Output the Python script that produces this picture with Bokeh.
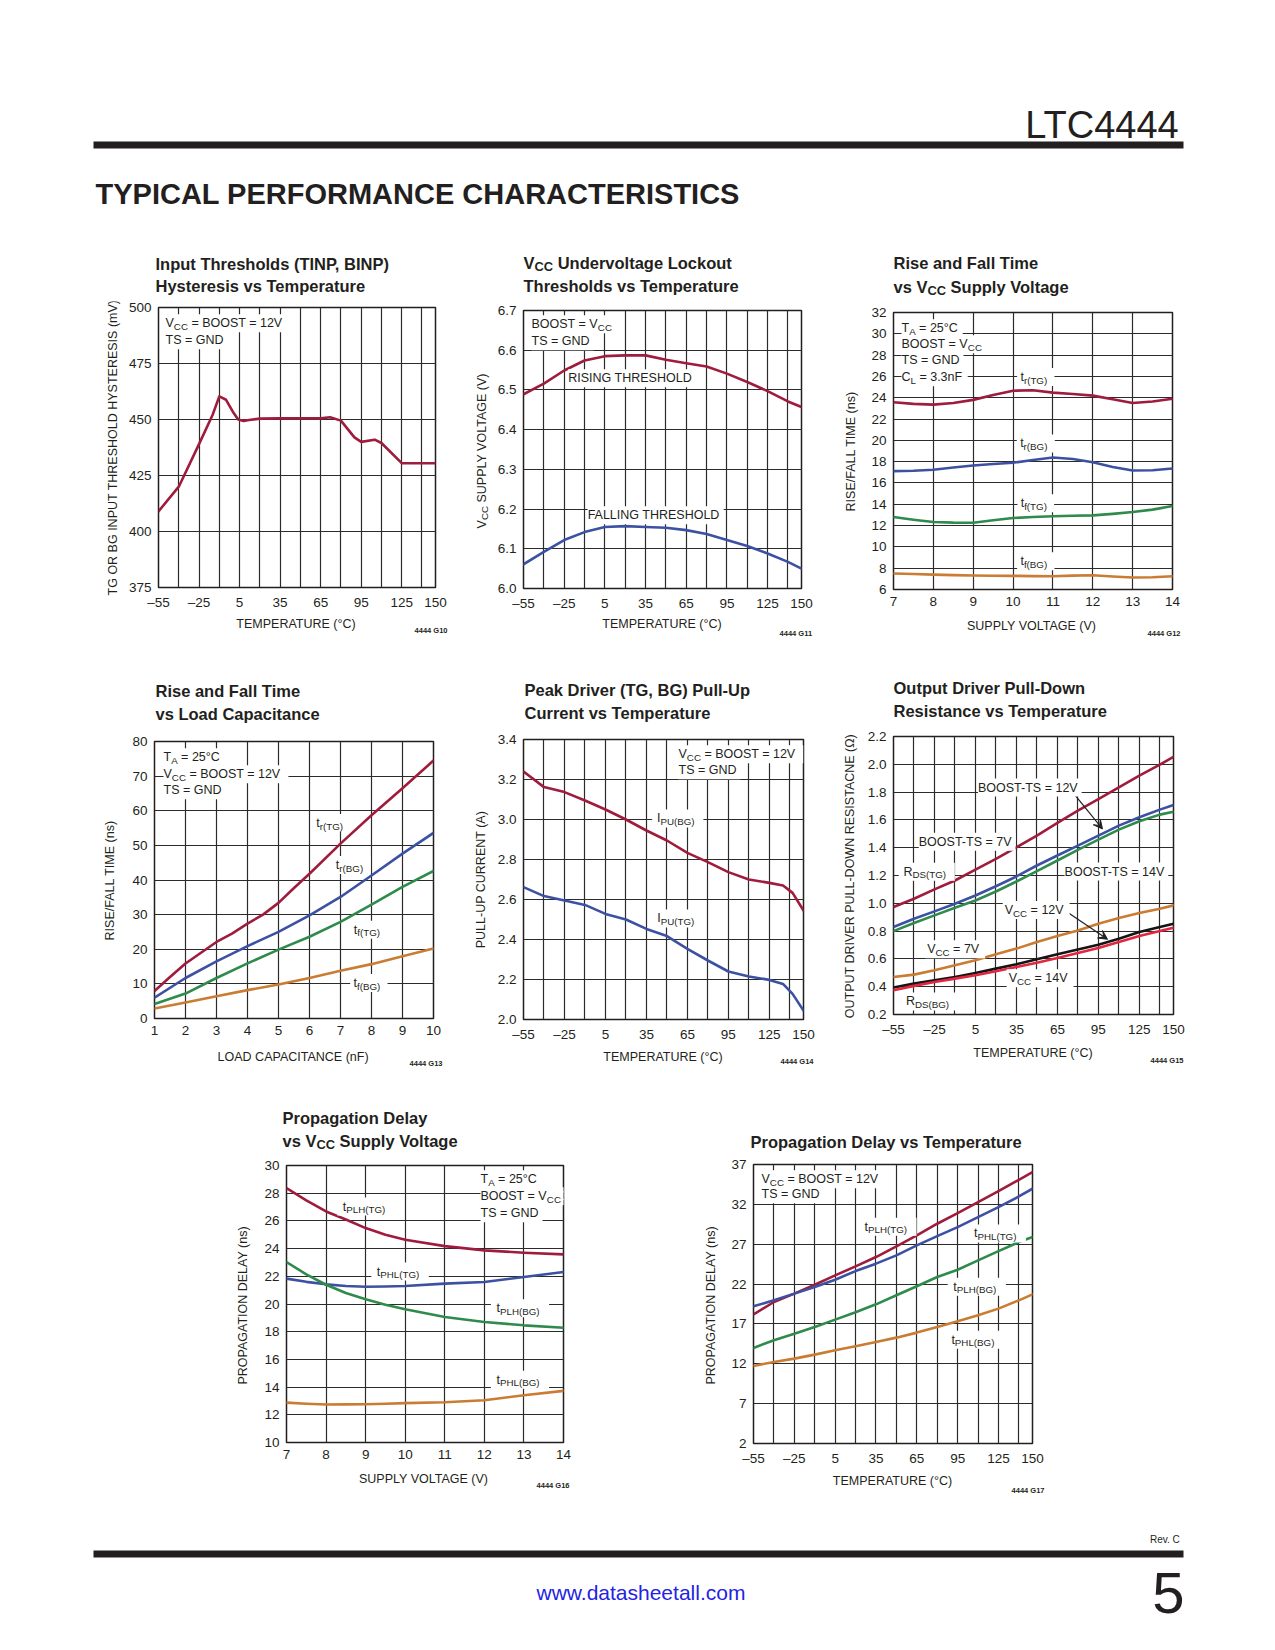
import math
from bokeh.plotting import figure
from bokeh.models import (Range1d, FixedTicker, CustomJSTickFormatter, Label,
                          BoxAnnotation, Arrow, VeeHead)
from bokeh.layouts import column, row
from bokeh.embed import file_html
from bokeh.resources import INLINE

FONT = "Liberation Sans"
INK = "#231f20"
MAROON = "#9f1c3d"
BLUE = "#3d51a3"
GREEN = "#2f8b4c"
ORANGE = "#c97c32"
RED = "#e3263f"
BLACK = "#151515"
LINKBLUE = "#2323e6"

# ---------------- data ----------------
TEMP_TICKS = [-55, -25, 5, 35, 65, 95, 125, 150]
TEMP_GRID = [-55, -40, -25, -10, 5, 20, 35, 50, 65, 80, 95, 110, 125, 140, 150]
TEMP_STD = [-55, -40, -25, -10, 5, 20, 35, 50, 65, 80, 95, 110, 125, 140, 150]

# G10 hysteresis vs temperature
g10_temp = [-55, -40, -25, -15, -10, -5, 0, 4, 8, 12, 20, 35, 50, 65, 72, 80, 90, 95, 105, 110, 125, 150]
g10_hyst = [409, 420, 439, 452, 460.3, 458.8, 453.5, 450.0, 449.3, 449.8, 450.4, 450.5, 450.5, 450.5, 451.0,
            449.5, 442.0, 440.0, 441.0, 439.5, 430.5, 430.5]

# G11 UVLO thresholds
g11_rise = [6.489, 6.516, 6.549, 6.574, 6.585, 6.587, 6.587, 6.576, 6.567, 6.559, 6.541, 6.520, 6.497, 6.471, 6.457]
g11_fall = [6.061, 6.092, 6.122, 6.142, 6.155, 6.157, 6.155, 6.153, 6.147, 6.137, 6.122, 6.107, 6.088, 6.067, 6.050]

# G12 rise/fall vs supply
g12_v = [7, 7.5, 8, 8.5, 9, 9.5, 10, 10.5, 11, 11.5, 12, 12.5, 13, 13.5, 14]
g12_tr_tg = [23.57, 23.42, 23.35, 23.5, 23.8, 24.25, 24.66, 24.7, 24.48, 24.35, 24.2, 23.85, 23.5, 23.65, 23.9]
g12_tr_bg = [17.11, 17.15, 17.24, 17.45, 17.64, 17.78, 17.9, 18.15, 18.39, 18.25, 17.95, 17.5, 17.17, 17.2, 17.36]
g12_tf_tg = [12.8, 12.55, 12.34, 12.28, 12.27, 12.5, 12.71, 12.8, 12.87, 12.92, 12.96, 13.1, 13.27, 13.5, 13.83]
g12_tf_bg = [7.5, 7.45, 7.4, 7.35, 7.31, 7.29, 7.28, 7.26, 7.25, 7.3, 7.34, 7.22, 7.12, 7.15, 7.25]

# G13 rise/fall vs load capacitance
g13_c_fine = [1, 1.5, 2, 2.5, 3, 3.5, 4, 4.5, 5, 5.5, 6, 7, 8, 9, 10]
g13_tr_tg = [7.9, 12.0, 15.9, 19.0, 22.1, 24.5, 27.4, 30.0, 33.4, 37.7, 41.8, 50.5, 58.7, 66.5, 74.5]
g13_c = [1, 2, 3, 4, 5, 6, 7, 8, 9, 10]
g13_tr_bg = [6.0, 11.7, 16.5, 20.9, 25.0, 29.8, 35.1, 41.3, 47.6, 53.6]
g13_tf_tg = [4.2, 7.2, 11.7, 15.9, 19.9, 23.6, 27.9, 32.9, 38.0, 42.6]
g13_tf_bg = [2.9, 4.6, 6.4, 8.2, 9.8, 11.7, 13.8, 15.7, 18.0, 20.2]

# G14 pull-up current vs temperature
g14_temp = [-55, -40, -25, -10, 5, 20, 35, 50, 65, 80, 95, 110, 125, 135, 142, 150]
g14_ipu_bg = [3.24, 3.162, 3.137, 3.095, 3.05, 3.0, 2.945, 2.895, 2.833, 2.787, 2.737, 2.70, 2.683, 2.67, 2.633, 2.545]
g14_ipu_tg = [2.662, 2.617, 2.595, 2.573, 2.528, 2.5, 2.453, 2.417, 2.353, 2.295, 2.24, 2.215, 2.198, 2.178, 2.128, 2.045]

# G15 pull-down resistance vs temperature
g15_tg_7v = [0.973, 1.033, 1.1, 1.164, 1.243, 1.32, 1.403, 1.487, 1.578, 1.667, 1.75, 1.834, 1.918, 1.997, 2.054]
g15_tg_12v = [0.829, 0.889, 0.942, 0.997, 1.056, 1.123, 1.193, 1.272, 1.344, 1.415, 1.487, 1.559, 1.619, 1.674, 1.707]
g15_tg_14v = [0.80, 0.858, 0.913, 0.968, 1.02, 1.085, 1.157, 1.231, 1.308, 1.384, 1.458, 1.53, 1.59, 1.638, 1.659]
g15_bg_7v = [0.47, 0.487, 0.518, 0.554, 0.59, 0.633, 0.674, 0.722, 0.765, 0.805, 0.853, 0.894, 0.93, 0.961, 0.985]
g15_bg_12v = [0.394, 0.422, 0.446, 0.47, 0.499, 0.53, 0.561, 0.597, 0.633, 0.667, 0.702, 0.745, 0.793, 0.829, 0.853]
g15_bg_14v = [0.375, 0.406, 0.434, 0.458, 0.482, 0.511, 0.542, 0.573, 0.607, 0.643, 0.678, 0.721, 0.765, 0.80, 0.824]

# G16 propagation delay vs supply
g16_v = [7, 7.5, 8, 8.5, 9, 9.5, 10, 11, 12, 13, 14]
g16_tplh_tg = [28.37, 27.48, 26.68, 26.1, 25.48, 25.0, 24.64, 24.18, 23.87, 23.7, 23.58]
g16_tphl_tg = [21.83, 21.6, 21.42, 21.3, 21.25, 21.26, 21.3, 21.47, 21.59, 21.95, 22.31]
g16_tplh_bg = [23.03, 22.14, 21.39, 20.79, 20.34, 19.95, 19.62, 19.06, 18.7, 18.46, 18.29]
g16_tphl_bg = [12.88, 12.8, 12.74, 12.75, 12.76, 12.8, 12.84, 12.91, 13.05, 13.41, 13.73]

# G17 propagation delay vs temperature
g17_tplh_tg = [18.2, 19.75, 20.8, 21.92, 23.09, 24.22, 25.39, 26.73, 28.1, 29.57, 30.9, 32.28, 33.66, 35.08, 36.04]
g17_tphl_tg = [19.21, 19.96, 20.8, 21.63, 22.55, 23.63, 24.56, 25.6, 26.85, 28.02, 29.15, 30.4, 31.66, 32.99, 33.96]
g17_tplh_bg = [13.99, 14.95, 15.78, 16.62, 17.54, 18.46, 19.46, 20.59, 21.72, 22.89, 23.8, 24.97, 26.14, 27.27, 27.9]
g17_tphl_bg = [11.73, 12.23, 12.65, 13.15, 13.7, 14.2, 14.74, 15.28, 15.91, 16.62, 17.33, 18.08, 18.92, 19.96, 20.71]

# arrows on G15 (start temp, start R, end temp, end R)
G15_ARROWS = [(77.3, 1.786, 98.0, 1.535), (72.9, 0.932, 101.7, 0.741)]

# ---------------- text metrics (Arial-compatible) ----------------
_REG = dict(zip(" !\"#$%&'()*+,-./", [278, 278, 355, 556, 556, 889, 667, 191, 333, 333, 389, 584, 278, 333, 278, 278]))
_REG.update({d: 556 for d in "0123456789"})
_REG.update(dict(zip(":;<=>?@", [278, 278, 584, 584, 584, 556, 1015])))
_REG.update(dict(zip("ABCDEFGHIJKLMNOPQRSTUVWXYZ",
                     [667, 667, 722, 722, 667, 611, 778, 722, 278, 500, 667, 556, 833, 722, 778, 667, 778, 722, 667,
                      611, 722, 667, 944, 667, 667, 611])))
_REG.update(dict(zip("abcdefghijklmnopqrstuvwxyz",
                     [556, 556, 500, 556, 556, 278, 556, 556, 222, 222, 500, 222, 833, 556, 556, 556, 556, 333, 500,
                      278, 556, 500, 722, 500, 500, 500])))
_REG.update({"°": 400, "Ω": 768, "–": 556})
_BOLD = dict(zip(" !\"#$%&'()*+,-./", [278, 333, 474, 556, 556, 889, 722, 238, 333, 333, 389, 584, 278, 333, 278, 278]))
_BOLD.update({d: 556 for d in "0123456789"})
_BOLD.update(dict(zip(":;<=>?@", [333, 333, 584, 584, 584, 611, 975])))
_BOLD.update(dict(zip("ABCDEFGHIJKLMNOPQRSTUVWXYZ",
                      [722, 722, 722, 722, 667, 611, 778, 722, 278, 556, 722, 611, 833, 722, 778, 667, 778, 722, 667,
                       611, 722, 667, 944, 667, 667, 611])))
_BOLD.update(dict(zip("abcdefghijklmnopqrstuvwxyz",
                      [556, 611, 556, 611, 556, 333, 611, 611, 278, 278, 556, 278, 889, 611, 611, 611, 611, 389, 556,
                       333, 611, 556, 778, 556, 556, 500])))
_BOLD.update({"°": 400, "Ω": 768, "–": 556})

KB = 0.27  # empirical baseline correction (fraction of font size)


def tw(s, size, bold=False):
    tbl = _BOLD if bold else _REG
    return sum(tbl.get(c, 556) for c in s) * size / 1000.0


def no_align(fig):
    try:
        fig.frame_align = False
    except Exception:
        pass


PENDING = {}


def _queue(p, lab, is_bg):
    d = PENDING.setdefault(id(p), (p, [], []))
    (d[1] if is_bg else d[2]).append(lab)


def rich(p, x, y, segs, size=12.5, dx=0.0, dy=0.0, align="left", bold=False, italic=False, bg=False,
         color=INK, vertical=False, sub_scale=0.78, drop=0.25, vmid=False):
    parts = []
    cur = 0.0
    has_sub = any(s for _, s in segs)
    for t, s in segs:
        fs = size * sub_scale if s else size
        lead = len(t) - len(t.lstrip(" "))
        core = t.strip(" ")
        if core:
            parts.append((core, fs, cur + tw(" " * lead, fs, bold), (drop * size) if s else 0.0))
        cur += tw(t, fs, bold)
    total = cur
    start = {"left": 0.0, "center": -total / 2.0, "right": -total}[align]
    if vmid:
        dy = dy - ((0.72 * size - drop * size) / 2.0 if has_sub else 0.36 * size)
    if vertical:
        dx = dx - KB * size
    else:
        dy = dy + KB * size
    fstyle = ("bold " if bold else "") + ("italic" if italic else "")
    fstyle = fstyle.strip() or "normal"
    base = dict(x=x, y=y, text_font=FONT, text_font_style=fstyle, text_align="left",
                text_baseline="alphabetic")
    if bg and not vertical:
        full = "".join(t for t, _ in segs).strip(" ")
        over = tw(full, size, bold) - total
        bstart = start - (over / 2.0 if align == "center" else (over if align == "right" else 0.0))
        _queue(p, Label(text=full, text_font_size=f"{size:.2f}px", text_color="white",
                        background_fill_color="white", padding=2,
                        x_offset=dx + bstart, y_offset=dy, **base), True)
    for core, fs, off, dn in parts:
        kw = dict(base, text=core, text_font_size=f"{fs:.2f}px", text_color=color)
        if vertical:
            kw.update(x_offset=dx + dn, y_offset=dy + start + off, angle=math.pi / 2)
        else:
            kw.update(x_offset=dx + start + off, y_offset=dy - dn)
        _queue(p, Label(**kw), False)


def fmt(kind):
    if kind == "temp":
        return CustomJSTickFormatter(code="return (tick < 0 ? '\u2013' : '') + Math.abs(tick).toFixed(0);")
    return CustomJSTickFormatter(code="return tick.toFixed(%d);" % kind)


def make_strip(w, h):
    s = figure(width=int(w), height=int(h), x_range=Range1d(0, w), y_range=Range1d(h, 0),
               x_axis_type=None, y_axis_type=None, output_backend="svg", toolbar_location=None,
               title=None, min_border=0)
    s.outline_line_color = None
    s.background_fill_color = "white"
    s.border_fill_color = "white"
    no_align(s)
    return s


CB_L, CB_T, CB_B = 32, 6, 26


class Cell:
    def __init__(self, cx, cy, cw, ch, L, T, fw, fh, xr, yr, xticks, xgrid, yticks, ygrid, xfmt, yfmt):
        self.L, self.T, self.fw, self.fh = L, T, fw, fh
        self.xr, self.yr = xr, yr
        Lc, Tc = L - cx, T - cy
        right = cw - Lc - fw
        p = figure(width=CB_L + fw + right, height=CB_T + fh + CB_B,
                   x_range=Range1d(*xr), y_range=Range1d(*yr),
                   output_backend="svg", toolbar_location=None, title=None,
                   min_border_left=CB_L, min_border_right=right,
                   min_border_top=CB_T, min_border_bottom=CB_B)
        no_align(p)
        p.outline_line_color = INK
        p.outline_line_width = 1.5
        p.background_fill_color = "white"
        p.border_fill_color = "white"
        for ax in (p.xaxis[0], p.yaxis[0]):
            ax.axis_line_color = None
            ax.major_tick_line_color = None
            ax.minor_tick_line_color = None
            ax.major_tick_in = 0
            ax.major_tick_out = 0
            ax.minor_tick_in = 0
            ax.minor_tick_out = 0
            ax.major_label_text_font = FONT
            ax.major_label_text_font_size = "13.5px"
            ax.major_label_text_color = INK
        p.xaxis[0].major_label_standoff = 7
        p.yaxis[0].major_label_standoff = 7
        p.xaxis[0].ticker = FixedTicker(ticks=list(xticks))
        p.yaxis[0].ticker = FixedTicker(ticks=list(yticks))
        p.xaxis[0].formatter = fmt(xfmt)
        p.yaxis[0].formatter = fmt(yfmt)
        p.xgrid[0].ticker = FixedTicker(ticks=list(xgrid))
        p.ygrid[0].ticker = FixedTicker(ticks=list(ygrid))
        for g in (p.xgrid[0], p.ygrid[0]):
            g.grid_line_color = "#2b2b2b"
            g.grid_line_width = 1.2
            g.grid_line_alpha = 1.0
        self.p = p
        self.top = make_strip(cw, Tc - CB_T)
        self.left = make_strip(Lc - CB_L, CB_T + fh + CB_B)
        self.bot = make_strip(cw, ch - Tc - fh - CB_B)
        self.o_top = (cx, cy)
        self.o_left = (cx, T - CB_T)
        self.o_bot = (cx, T + fh + CB_B)
        self.layout = column(self.top, row(self.left, p), self.bot)

    def curve(self, xs, ys, color):
        self.p.line(xs, ys, line_color=color, line_width=2.6, line_join="round", line_cap="round")

    def clabel(self, x, y, segs):
        rich(self.p, x, y, segs, align="center", bg=True, vmid=True)

    def box(self, lines, dx):
        for segs, dyy in lines:
            rich(self.p, self.xr[0], self.yr[1], segs, dx=dx, dy=dyy, bg=True)

    def titles(self, x_page, lines):
        ox, oy = self.o_top
        for segs, b in lines:
            rich(self.top, x_page - ox, b - oy, segs, size=16.5, bold=True, drop=0.22)

    def ylabel(self, cx_page, segs, size=12.5):
        ox, oy = self.o_left
        rich(self.left, cx_page - ox, self.T + self.fh / 2.0 - oy, segs, size=size, vertical=True,
             align="center", dx=0.36 * size)

    def xlabel(self, base_page, segs):
        ox, oy = self.o_bot
        rich(self.bot, self.L + self.fw / 2.0 - ox, base_page - oy, segs, align="center")

    def gid(self, right_page, base_page, text):
        ox, oy = self.o_bot
        rich(self.bot, right_page - ox, base_page - oy, [(text, 0)], size=7.5, bold=True, align="right")


def rng(a, b, step, nd):
    n = int(round((b - a) / step))
    return [round(a + i * step, nd) for i in range(n + 1)]


TOTAL_W = 1270

# ---------------- header ----------------
hdr = make_strip(TOTAL_W, 236)
hdr.add_layout(BoxAnnotation(left=93, right=1183, top=141, bottom=148, fill_color=INK, fill_alpha=1.0,
                             line_color=None))
rich(hdr, 1181, 135, [("LTC4444", 0)], size=38, align="right")
rich(hdr, 95, 201, [("TYPICAL PERFORMANCE CHARACTERISTICS", 0)], size=29, bold=True)

TEMP_LAB = [("TEMPERATURE (°C)", 0)]
VOLT_LAB = [("SUPPLY VOLTAGE (V)", 0)]

# ---------------- chart G10 ----------------
c1 = Cell(0, 236, 470, 414, 157, 307, 278, 280, (-55, 150), (375, 500), TEMP_TICKS, TEMP_GRID,
          rng(375, 500, 25, 0), rng(375, 500, 25, 0), "temp", 0)
c1.curve(g10_temp, g10_hyst, MAROON)
c1.box([([("V", 0), ("CC", 1), (" = BOOST = 12V", 0)], -19), ([("TS = GND", 0)], -36)], 7)
c1.titles(155, [([("Input Thresholds (TINP, BINP)", 0)], 268), ([("Hysteresis vs Temperature", 0)], 290)])
c1.ylabel(111, [("TG OR BG INPUT THRESHOLD HYSTERESIS (mV)", 0)])
c1.xlabel(627, TEMP_LAB)
c1.gid(447, 632, "4444 G10")

# ---------------- chart G11 ----------------
c2 = Cell(470, 236, 370, 414, 523, 310, 278, 278, (-55, 150), (6.0, 6.7), TEMP_TICKS, TEMP_GRID,
          rng(6.0, 6.7, 0.1, 1), rng(6.0, 6.7, 0.1, 1), "temp", 1)
c2.curve(TEMP_STD, g11_rise, MAROON)
c2.curve(TEMP_STD, g11_fall, BLUE)
c2.box([([("BOOST = V", 0), ("CC", 1)], -17), ([("TS = GND", 0)], -34)], 8)
c2.clabel(23.6, 6.532, [("RISING THRESHOLD", 0)])
c2.clabel(41.2, 6.187, [("FALLING THRESHOLD", 0)])
c2.titles(523, [([("V", 0), ("CC", 1), (" Undervoltage Lockout", 0)], 267),
                ([("Thresholds vs Temperature", 0)], 290)])
c2.ylabel(480, [("V", 0), ("CC", 1), (" SUPPLY VOLTAGE (V)", 0)])
c2.xlabel(627, TEMP_LAB)
c2.gid(812, 635, "4444 G11")

# ---------------- chart G12 ----------------
c3 = Cell(840, 236, 430, 414, 893, 312, 279, 277, (7, 14), (6, 32), list(range(7, 15)), list(range(7, 15)),
          list(range(6, 33, 2)), list(range(6, 33, 2)), 0, 0)
c3.curve(g12_v, g12_tr_tg, MAROON)
c3.curve(g12_v, g12_tr_bg, BLUE)
c3.curve(g12_v, g12_tf_tg, GREEN)
c3.curve(g12_v, g12_tf_bg, ORANGE)
c3.box([([("T", 0), ("A", 1), (" = 25°C", 0)], -19), ([("BOOST = V", 0), ("CC", 1)], -35),
        ([("TS = GND", 0)], -51), ([("C", 0), ("L", 1), (" = 3.3nF", 0)], -68)], 8)
c3.clabel(10.52, 25.9, [("t", 0), ("r(TG)", 1)])
c3.clabel(10.52, 19.67, [("t", 0), ("r(BG)", 1)])
c3.clabel(10.52, 14.05, [("t", 0), ("f(TG)", 1)])
c3.clabel(10.52, 8.6, [("t", 0), ("f(BG)", 1)])
c3.titles(893, [([("Rise and Fall Time", 0)], 267), ([("vs V", 0), ("CC", 1), (" Supply Voltage", 0)], 291)])
c3.ylabel(849, [("RISE/FALL TIME (ns)", 0)])
c3.xlabel(629, VOLT_LAB)
c3.gid(1180, 635, "4444 G12")

# ---------------- chart G13 ----------------
c4 = Cell(0, 650, 470, 422, 154, 741, 279, 277, (1, 10), (0, 80), list(range(1, 11)), list(range(1, 11)),
          list(range(0, 81, 10)), list(range(0, 81, 10)), 0, 0)
c4.curve(g13_c_fine, g13_tr_tg, MAROON)
c4.curve(g13_c, g13_tr_bg, BLUE)
c4.curve(g13_c, g13_tf_tg, GREEN)
c4.curve(g13_c, g13_tf_bg, ORANGE)
c4.box([([("T", 0), ("A", 1), (" = 25°C", 0)], -19),
        ([("V", 0), ("CC", 1), (" = BOOST = 12V", 0)], -36), ([("TS = GND", 0)], -52)], 9)
c4.clabel(6.65, 56.3, [("t", 0), ("r(TG)", 1)])
c4.clabel(7.29, 44.2, [("t", 0), ("r(BG)", 1)])
c4.clabel(7.85, 25.5, [("t", 0), ("f(TG)", 1)])
c4.clabel(7.85, 10.1, [("t", 0), ("f(BG)", 1)])
c4.titles(155, [([("Rise and Fall Time", 0)], 695), ([("vs Load Capacitance", 0)], 718)])
c4.ylabel(108, [("RISE/FALL TIME (ns)", 0)])
c4.xlabel(1060, [("LOAD CAPACITANCE (nF)", 0)])
c4.gid(442, 1065, "4444 G13")

# ---------------- chart G14 ----------------
c5 = Cell(470, 650, 370, 422, 523, 739, 280, 280, (-55, 150), (2.0, 3.4), TEMP_TICKS, TEMP_GRID,
          rng(2.0, 3.4, 0.2, 1), rng(2.0, 3.4, 0.2, 1), "temp", 1)
c5.curve(g14_temp, g14_ipu_bg, MAROON)
c5.curve(g14_temp, g14_ipu_tg, BLUE)
c5.box([([("V", 0), ("CC", 1), (" = BOOST = 12V", 0)], -18), ([("TS = GND", 0)], -34)], 155)
c5.clabel(56.5, 3.003, [("I", 0), ("PU(BG)", 1)])
c5.clabel(56.5, 2.503, [("I", 0), ("PU(TG)", 1)])
c5.titles(524, [([("Peak Driver (TG, BG) Pull-Up", 0)], 694), ([("Current vs Temperature", 0)], 717)])
c5.ylabel(479, [("PULL-UP CURRENT (A)", 0)])
c5.xlabel(1060, TEMP_LAB)
c5.gid(813, 1063, "4444 G14")

# ---------------- chart G15 ----------------
c6 = Cell(840, 650, 430, 422, 893, 736, 280, 278, (-55, 150), (0.2, 2.2), TEMP_TICKS, TEMP_GRID,
          rng(0.2, 2.2, 0.2, 1), rng(0.2, 2.2, 0.2, 1), "temp", 1)
c6.curve(TEMP_STD, g15_tg_7v, MAROON)
c6.curve(TEMP_STD, g15_tg_12v, BLUE)
c6.curve(TEMP_STD, g15_tg_14v, GREEN)
c6.curve(TEMP_STD, g15_bg_7v, ORANGE)
c6.curve(TEMP_STD, g15_bg_12v, BLACK)
c6.curve(TEMP_STD, g15_bg_14v, RED)
for (xs, ys, xe, ye) in G15_ARROWS:
    c6.p.add_layout(Arrow(end=VeeHead(size=9, fill_color=INK, line_color=INK), x_start=xs, y_start=ys,
                          x_end=xe, y_end=ye, line_color=INK, line_width=1.2))
c6.clabel(43.6, 1.841, [("BOOST-TS = 12V", 0)])
c6.clabel(-2.3, 1.451, [("BOOST-TS = 7V", 0)])
c6.clabel(-32.1, 1.224, [("R", 0), ("DS(TG)", 1)])
c6.clabel(107, 1.236, [("BOOST-TS = 14V", 0)])
c6.clabel(48, 0.949, [("V", 0), ("CC", 1), (" = 12V", 0)])
c6.clabel(-11.3, 0.667, [("V", 0), ("CC", 1), (" = 7V", 0)])
c6.clabel(50.9, 0.458, [("V", 0), ("CC", 1), (" = 14V", 0)])
c6.clabel(-30.1, 0.291, [("R", 0), ("DS(BG)", 1)])
c6.titles(893, [([("Output Driver Pull-Down", 0)], 692), ([("Resistance vs Temperature", 0)], 715)])
c6.ylabel(848, [("OUTPUT DRIVER PULL-DOWN RESISTACNE (Ω)", 0)])
c6.xlabel(1056, TEMP_LAB)
c6.gid(1183, 1062, "4444 G15")

# ---------------- chart G16 ----------------
c7 = Cell(0, 1072, 640, 430, 286, 1165, 277, 277, (7, 14), (10, 30), list(range(7, 15)), list(range(7, 15)),
          list(range(10, 31, 2)), list(range(10, 31, 2)), 0, 0)
c7.curve(g16_v, g16_tplh_tg, MAROON)
c7.curve(g16_v, g16_tphl_tg, BLUE)
c7.curve(g16_v, g16_tplh_bg, GREEN)
c7.curve(g16_v, g16_tphl_bg, ORANGE)
c7.box([([("T", 0), ("A", 1), (" = 25°C", 0)], -17), ([("BOOST = V", 0), ("CC", 1)], -34),
        ([("TS = GND", 0)], -51)], 194)
c7.clabel(8.96, 27.0, [("t", 0), ("PLH(TG)", 1)])
c7.clabel(9.82, 22.31, [("t", 0), ("PHL(TG)", 1)])
c7.clabel(12.85, 19.66, [("t", 0), ("PLH(BG)", 1)])
c7.clabel(12.85, 14.5, [("t", 0), ("PHL(BG)", 1)])
c7.titles(282, [([("Propagation Delay", 0)], 1122), ([("vs V", 0), ("CC", 1), (" Supply Voltage", 0)], 1145)])
c7.ylabel(241, [("PROPAGATION DELAY (ns)", 0)])
c7.xlabel(1482, VOLT_LAB)
c7.gid(569, 1487, "4444 G16")

# ---------------- chart G17 ----------------
c8 = Cell(640, 1072, 630, 430, 753, 1164, 279, 279, (-55, 150), (2, 37), TEMP_TICKS, TEMP_GRID,
          list(range(2, 38, 5)), list(range(2, 38, 5)), "temp", 0)
c8.curve(TEMP_STD, g17_tplh_tg, MAROON)
c8.curve(TEMP_STD, g17_tphl_tg, BLUE)
c8.curve(TEMP_STD, g17_tplh_bg, GREEN)
c8.curve(TEMP_STD, g17_tphl_bg, ORANGE)
c8.box([([("V", 0), ("CC", 1), (" = BOOST = 12V", 0)], -18), ([("TS = GND", 0)], -33)], 8)
c8.clabel(42.2, 29.15, [("t", 0), ("PLH(TG)", 1)])
c8.clabel(122.6, 28.3, [("t", 0), ("PHL(TG)", 1)])
c8.clabel(107.6, 21.6, [("t", 0), ("PLH(BG)", 1)])
c8.clabel(106.2, 14.95, [("t", 0), ("PHL(BG)", 1)])
c8.titles(750, [([("Propagation Delay vs Temperature", 0)], 1146)])
c8.ylabel(709, [("PROPAGATION DELAY (ns)", 0)])
c8.xlabel(1484, TEMP_LAB)
c8.gid(1044, 1492, "4444 G17")

# ---------------- footer ----------------
ftr = make_strip(TOTAL_W, 140)
ftr.add_layout(BoxAnnotation(left=93, right=1183, top=48, bottom=55, fill_color=INK, fill_alpha=1.0,
                             line_color=None))
rich(ftr, 1180, 40, [("Rev. C", 0)], size=10, align="right")
rich(ftr, 641, 96, [("www.datasheetall.com", 0)], size=21, align="center", color=LINKBLUE)
rich(ftr, 1184, 106, [("5", 0)], size=58, align="right")

for p, bgs, fgs in PENDING.values():
    for lab in bgs + fgs:
        p.add_layout(lab)

layout = column(hdr,
                row(c1.layout, c2.layout, c3.layout),
                row(c4.layout, c5.layout, c6.layout),
                row(c7.layout, c8.layout),
                ftr)

with open("out.html", "w", encoding="utf-8") as f:
    f.write(file_html(layout, INLINE))
